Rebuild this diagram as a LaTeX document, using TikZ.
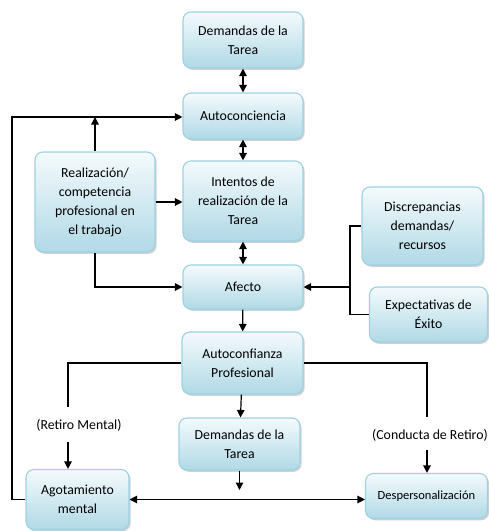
\documentclass[tikz,border=0pt]{standalone}
\usepackage{fontspec}
\setmainfont{Carlito}
\usetikzlibrary{arrows.meta,shadows,positioning}
\definecolor{boxedge}{HTML}{9CD2E2}
\definecolor{boxtop}{HTML}{F4FAFC}
\definecolor{boxbottom}{HTML}{B0D9E6}
\tikzset{
  card/.style={draw=boxedge, line width=1.1pt, rounded corners=8pt,
    top color=boxtop, bottom color=boxbottom, align=center, inner sep=0pt,
    font=\fontsize{13.8}{19}\selectfont,
    drop shadow={shadow xshift=1.6pt, shadow yshift=-1.8pt, fill=black!45, opacity=0.4}},
  link/.style={line width=1.2pt, draw=black},
  tip/.style={link, -{Triangle[length=7.5pt,width=7.5pt]}},
  both/.style={link, {Triangle[length=7.5pt,width=7.5pt]}-{Triangle[length=7.5pt,width=7.5pt]}},
  tag/.style={font=\fontsize{13.8}{19}\selectfont, inner sep=1pt}
}
\begin{document}
\begin{tikzpicture}[x=1pt,y=-1pt]
\path[use as bounding box] (0,0) rectangle (489,531);

% boxes
\node[card, minimum width=120pt, minimum height=56pt] (dem1) at (243,40) {Demandas de la\\Tarea};
\node[card, minimum width=120pt, minimum height=46pt] (auto) at (243,116) {Autoconciencia};
\node[card, minimum width=120pt, minimum height=100pt] (real) at (95,202) {Realización/\\competencia\\profesional en\\el trabajo};
\node[card, minimum width=120pt, minimum height=80pt] (inte) at (243,201) {Intentos de\\realización de la\\Tarea};
\node[card, minimum width=120pt, minimum height=44pt] (afec) at (243,287) {Afecto};
\node[card, minimum width=121pt, minimum height=78pt] (disc) at (422.5,226) {Discrepancias\\demandas/\\recursos};
\node[card, minimum width=118pt, minimum height=55pt] (expe) at (428.5,314.5) {Expectativas de\\Éxito};
\node[card, minimum width=121pt, minimum height=62pt] (conf) at (242.5,363) {Autoconfianza\\Profesional};
\node[card, minimum width=121pt, minimum height=52pt] (dem2) at (239.5,444) {Demandas de la\\Tarea};
\node[card, minimum width=103pt, minimum height=60pt] (agot) at (77.5,499.5) {Agotamiento\\mental};
\node[card, minimum width=122pt, minimum height=45pt, font=\fontsize{12.5}{16}\selectfont] (desp) at (426.5,496) {Despersonalización};

% labels on the withdrawal paths
\node[tag] (retm) at (79,425) {(Retiro Mental)};
\node[tag] (retc) at (430,435) {(Conducta de Retiro)};

% main vertical chain
\draw[both] (dem1) -- (auto);
\draw[both] (auto) -- (inte);
\draw[both] (inte) -- (afec);
\draw[tip] (afec) -- (conf);
\draw[tip] (conf) -- (dem2);
\coordinate (d2end) at (239.5,490);
\draw[tip] (dem2) -- (d2end);

% bottom link
\draw[both] (agot.east) -- (agot.east -| desp.west);

% feedback loop to self-awareness
\coordinate (loopA) at (12,499.5);
\coordinate (loopB) at (12,117);
\coordinate (realtop) at (95,117);
\draw[tip] (agot.west) -- (loopA) -- (loopB) -- (loopB -| auto.west);
\draw[tip] (real.north) -- (realtop);

% accomplishment links
\draw[tip] (real.east) -- (real.east -| inte.west);
\coordinate (realdn) at (95,287);
\draw[tip] (real.south) -- (realdn) -- (afec.west);

% discrepancy / expectation links into affect
\coordinate (jx) at (350,287);
\draw[link] (disc.west) -- (disc.west -| jx) -- (expe.west -| jx) -- (expe.west);
\draw[tip] (jx) -- (afec.east);

% withdrawal branches
\coordinate (lA) at (68,363);
\coordinate (lB) at (68,407);
\coordinate (lC) at (68,442);
\draw[link] (conf.west) -- (lA) -- (lB);
\draw[tip] (lC) -- (lC |- agot.north);
\coordinate (rA) at (427,363);
\coordinate (rB) at (427,417);
\coordinate (rC) at (427,450);
\draw[link] (conf.east) -- (rA) -- (rB);
\draw[tip] (rC) -- (rC |- desp.north);
\end{tikzpicture}
\end{document}
